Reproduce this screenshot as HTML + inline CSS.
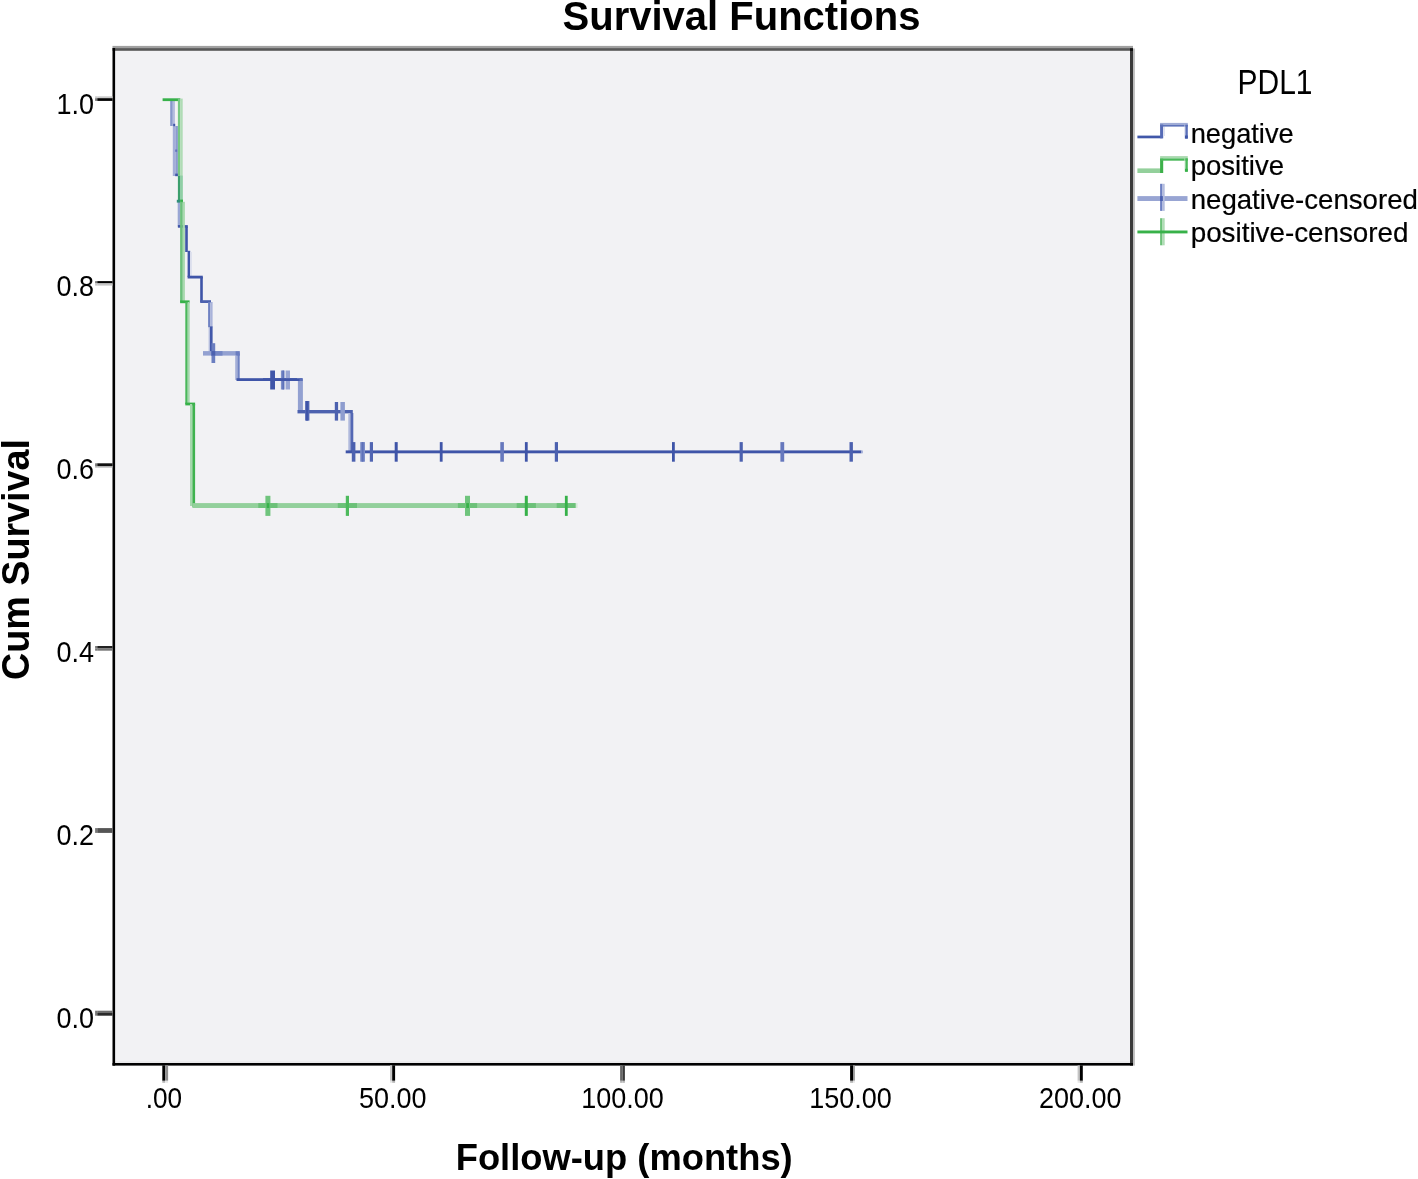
<!DOCTYPE html>
<html><head><meta charset="utf-8"><title>Survival Functions</title>
<style>
html,body{margin:0;padding:0;background:#fff;}
body{width:1418px;height:1179px;overflow:hidden;}
svg{display:block;}
text{font-family:"Liberation Sans",Arial,sans-serif;fill:#000;}
.b{font-weight:bold;}
.tk{font-size:30px;fill:#111;}
.lg{font-size:27.8px;fill:#000;stroke:#000;stroke-width:0.2px;}
</style></head><body>
<svg width="1418" height="1179" viewBox="0 0 1418 1179">
<rect x="0" y="0" width="1418" height="1179" fill="#fff"/>
<!-- plot area -->
<rect x="113.7" y="49" width="1018" height="1015.3" fill="#f2f2f4"/><rect x="115" y="1061.2" width="1015" height="1.8" fill="#e9e9eb"/>
<!-- top / right borders -->
<rect x="112.5" y="45.9" width="1020.5" height="2.3" fill="#a0a0a0"/>
<rect x="112.5" y="48.1" width="1020.5" height="2.7" fill="#585858"/>
<rect x="1133" y="48.5" width="1.9" height="1017.1" fill="#bdbdbd"/>
<rect x="1130" y="48.1" width="3" height="1017.5" fill="#3a3a3a"/><rect x="1130" y="48.4" width="3" height="2.6" fill="#111"/>
<!-- left / bottom -->
<rect x="112.5" y="48" width="2.6" height="1017.6" fill="#000"/>
<rect x="112.5" y="1063" width="1020.5" height="2.6" fill="#000"/>
<!-- y ticks -->
<g id="ticks">
<rect x="97.2" y="96.3" width="15.3" height="1.9" fill="#cacaca"/>
<rect x="95.1" y="96.3" width="2.1" height="1.9" fill="#cacaca"/>
<rect x="97.2" y="98.2" width="15.3" height="2.7" fill="#000"/>
<rect x="95.1" y="98.2" width="2.1" height="2.7" fill="#777"/>
<rect x="97.2" y="281.1" width="15.3" height="2.3" fill="#000"/>
<rect x="95.1" y="281.1" width="2.1" height="2.3" fill="#777"/>
<rect x="97.2" y="283.4" width="15.3" height="2.2" fill="#c6c6c6"/>
<rect x="95.1" y="283.4" width="2.1" height="2.2" fill="#c6c6c6"/>
<rect x="97.2" y="463.3" width="15.3" height="2.7" fill="#111"/>
<rect x="95.1" y="463.3" width="2.1" height="2.7" fill="#777"/>
<rect x="97.2" y="466.0" width="15.3" height="1.6" fill="#b0b0b0"/>
<rect x="95.1" y="466.0" width="2.1" height="1.6" fill="#b0b0b0"/>
<rect x="97.2" y="646.0" width="15.3" height="2.5" fill="#222"/>
<rect x="95.1" y="646.0" width="2.1" height="2.5" fill="#777"/>
<rect x="97.2" y="648.5" width="15.3" height="2.2" fill="#777"/>
<rect x="95.1" y="648.5" width="2.1" height="2.2" fill="#777"/>
<rect x="97.2" y="828.1" width="15.3" height="4.8" fill="#555"/>
<rect x="95.1" y="828.1" width="2.1" height="4.8" fill="#777"/>
<rect x="97.2" y="1010.7" width="15.3" height="2.3" fill="#6d6d6d"/>
<rect x="95.1" y="1010.7" width="2.1" height="2.3" fill="#777"/>
<rect x="97.2" y="1013.0" width="15.3" height="2.7" fill="#2a2a2a"/>
<rect x="95.1" y="1013.0" width="2.1" height="2.7" fill="#777"/>
<rect x="162.3" y="1065.4" width="2.8" height="15.4" fill="#000"/>
<rect x="162.3" y="1080.8" width="2.8" height="2.0" fill="#b5b5b5"/>
<rect x="165.1" y="1065.4" width="3.0" height="15.4" fill="#8e8e8e"/>
<rect x="165.1" y="1080.8" width="3.0" height="2.0" fill="#e6e6e6"/>
<rect x="390.0" y="1065.4" width="2.2" height="15.4" fill="#c6c6c6"/>
<rect x="390.0" y="1080.8" width="2.2" height="2.0" fill="#e6e6e6"/>
<rect x="392.2" y="1065.4" width="2.9" height="15.4" fill="#000"/>
<rect x="392.2" y="1080.8" width="2.9" height="2.0" fill="#b5b5b5"/>
<rect x="620.1" y="1065.4" width="2.4" height="15.4" fill="#666"/>
<rect x="620.1" y="1080.8" width="2.4" height="2.0" fill="#b5b5b5"/>
<rect x="622.5" y="1065.4" width="2.4" height="15.4" fill="#3a3a3a"/>
<rect x="622.5" y="1080.8" width="2.4" height="2.0" fill="#b5b5b5"/>
<rect x="850.1" y="1065.4" width="2.9" height="15.4" fill="#000"/>
<rect x="850.1" y="1080.8" width="2.9" height="2.0" fill="#b5b5b5"/>
<rect x="853.0" y="1065.4" width="1.9" height="15.4" fill="#999"/>
<rect x="853.0" y="1080.8" width="1.9" height="2.0" fill="#e6e6e6"/>
<rect x="1077.6" y="1065.4" width="2.3" height="15.4" fill="#c4c4c4"/>
<rect x="1077.6" y="1080.8" width="2.3" height="2.0" fill="#e6e6e6"/>
<rect x="1079.9" y="1065.4" width="2.9" height="15.4" fill="#000"/>
<rect x="1079.9" y="1080.8" width="2.9" height="2.0" fill="#b5b5b5"/>
</g>
<!-- y labels -->
<g class="tk" text-anchor="end">
<text x="94" y="113.8" textLength="37.53" lengthAdjust="spacingAndGlyphs">1.0</text>
<text x="94" y="296.4" textLength="37.53" lengthAdjust="spacingAndGlyphs">0.8</text>
<text x="94" y="479.2" textLength="37.53" lengthAdjust="spacingAndGlyphs">0.6</text>
<text x="94" y="662.0" textLength="37.53" lengthAdjust="spacingAndGlyphs">0.4</text>
<text x="94" y="844.8" textLength="37.53" lengthAdjust="spacingAndGlyphs">0.2</text>
<text x="94" y="1027.6" textLength="37.53" lengthAdjust="spacingAndGlyphs">0.0</text>
</g>
<g class="tk" text-anchor="middle">
<text x="163.9" y="1108.3" textLength="36.4" lengthAdjust="spacingAndGlyphs">.00</text>
<text x="392.7" y="1108.3" textLength="67.55" lengthAdjust="spacingAndGlyphs">50.00</text>
<text x="622.5" y="1108.3" textLength="82.57" lengthAdjust="spacingAndGlyphs">100.00</text>
<text x="850.5" y="1108.3" textLength="82.57" lengthAdjust="spacingAndGlyphs">150.00</text>
<text x="1080.3" y="1108.3" textLength="82.57" lengthAdjust="spacingAndGlyphs">200.00</text>
</g>
<!-- titles -->
<text class="b" x="741.5" y="30" font-size="40" text-anchor="middle">Survival Functions</text>
<text class="b" x="624.2" y="1170" font-size="37.5" text-anchor="middle" textLength="337" lengthAdjust="spacingAndGlyphs">Follow-up (months)</text>
<text class="b" transform="translate(29.2,559.5) rotate(-90)" font-size="39" text-anchor="middle" textLength="241" lengthAdjust="spacingAndGlyphs">Cum Survival</text>
<!-- legend -->
<text x="1275" y="93.5" font-size="35.5" text-anchor="middle" fill="#111" textLength="75" lengthAdjust="spacingAndGlyphs">PDL1</text>
<g class="lg">
<text x="1190.7" y="142.6" textLength="103" lengthAdjust="spacingAndGlyphs">negative</text>
<text x="1190.7" y="175.4" textLength="93.3" lengthAdjust="spacingAndGlyphs">positive</text>
<text x="1190.7" y="209.2" textLength="227.2" lengthAdjust="spacingAndGlyphs">negative-censored</text>
<text x="1190.7" y="242" textLength="217.8" lengthAdjust="spacingAndGlyphs">positive-censored</text>
</g>
<g id="legicons">
<rect x="1137.4" y="135.6" width="25.2" height="2.7" fill="#4057a9"/>
<rect x="1160.1" y="123.5" width="3.1" height="14.8" fill="#566bb6"/>
<rect x="1163.2" y="126.6" width="1.8" height="9.4" fill="#dfe3f0"/>
<rect x="1160.1" y="122.9" width="27.7" height="1.8" fill="#a0acd6"/>
<rect x="1160.1" y="124.7" width="27.7" height="1.9" fill="#5e73ba"/>
<rect x="1184.5" y="124.7" width="0.9" height="13.8" fill="#c9cfe7"/>
<rect x="1185.4" y="124.7" width="2.4" height="13.8" fill="#5a6fb8"/>
<rect x="1185.0" y="135.5" width="2.8" height="3.1" fill="#4057a9"/>
<rect x="1137.4" y="168.4" width="25.2" height="4.6" fill="#93d09b"/>
<rect x="1160.1" y="158.6" width="3.1" height="14.4" fill="#3cb04a"/>
<rect x="1160.1" y="156.1" width="27.7" height="2.3" fill="#a9d9af"/>
<rect x="1160.1" y="158.4" width="27.7" height="2.3" fill="#4ab85a"/>
<rect x="1184.5" y="158.4" width="0.9" height="13.1" fill="#cfe9d2"/>
<rect x="1185.4" y="158.4" width="2.4" height="13.1" fill="#4ab85a"/>
<rect x="1185.0" y="168.8" width="2.8" height="3.0" fill="#37b149"/>
<rect x="1137.4" y="196.1" width="50.1" height="4.9" fill="#98a5d3"/>
<rect x="1160.1" y="183.8" width="2.4" height="27.1" fill="#6d80c3"/>
<rect x="1162.5" y="183.8" width="2.2" height="27.1" fill="#b3bcde"/>
<rect x="1160.1" y="196.1" width="2.7" height="4.9" fill="#4a5fb0"/>
<rect x="1160.1" y="218.2" width="2.4" height="27.1" fill="#6cc178"/>
<rect x="1162.5" y="218.2" width="2.2" height="27.1" fill="#b0dcb5"/>
<rect x="1137.4" y="230.5" width="50.1" height="2.9" fill="#37b149"/>
</g>
<!-- curves -->
<g id="curves">
<rect x="170.2" y="101.0" width="2.6" height="25.0" fill="#8798cc"/>
<rect x="172.8" y="101.0" width="2.1" height="25.0" fill="#b3bcde"/>
<rect x="172.8" y="126.0" width="2.6" height="50.0" fill="#a3aed8"/>
<rect x="175.4" y="126.0" width="2.5" height="50.0" fill="#8c9bcf"/>
<rect x="173.2" y="123.8" width="2.0" height="2.4" fill="#3f55a8"/>
<rect x="175.2" y="149.5" width="2.0" height="2.3" fill="#6073bb"/>
<rect x="175.2" y="173.6" width="2.7" height="2.6" fill="#3f55a8"/>
<rect x="177.7" y="201.8" width="2.4" height="24.8" fill="#9aa7d4"/>
<rect x="177.9" y="225.1" width="9.9" height="2.6" fill="#3f55a8"/>
<rect x="185.2" y="226.6" width="2.6" height="25.4" fill="#3f55a8"/>
<rect x="187.6" y="250.8" width="2.6" height="26.2" fill="#3f55a8"/>
<rect x="190.2" y="252.0" width="1.8" height="25.0" fill="#dfe2ee"/>
<rect x="187.6" y="275.7" width="15.2" height="2.8" fill="#3f55a8"/>
<rect x="200.2" y="277.0" width="2.6" height="25.0" fill="#3f55a8"/>
<rect x="200.2" y="300.2" width="10.8" height="2.8" fill="#4d62af"/>
<rect x="208.1" y="302.0" width="2.3" height="25.4" fill="#6f82c2"/>
<rect x="210.4" y="302.0" width="2.2" height="25.4" fill="#a9b3da"/>
<rect x="208.4" y="327.4" width="1.4" height="25.6" fill="#c9cfe6"/>
<rect x="209.8" y="326.4" width="2.8" height="26.6" fill="#4258aa"/>
<rect x="203.0" y="351.1" width="36.7" height="4.5" fill="#93a1d1"/>
<rect x="211.0" y="351.1" width="11.5" height="4.5" fill="#7587c5"/>
<rect x="211.5" y="343.2" width="3.7" height="19.8" fill="#6b7ec0"/>
<rect x="211.5" y="351.1" width="3.7" height="4.5" fill="#4c61af"/>
<rect x="235.2" y="355.6" width="2.2" height="24.4" fill="#a3aed8"/>
<rect x="237.4" y="353.4" width="2.3" height="26.6" fill="#6f82c2"/>
<rect x="235.6" y="351.3" width="4.1" height="4.3" fill="#6a7dc0"/>
<rect x="236.5" y="378.2" width="65.5" height="2.8" fill="#3f55a8"/>
<rect x="270.2" y="370.5" width="4.8" height="19.0" fill="#3f55a8"/>
<rect x="280.9" y="370.5" width="3.7" height="19.0" fill="#7f90c9"/>
<rect x="282.4" y="370.5" width="1.5" height="19.0" fill="#5a6fb8"/>
<rect x="285.6" y="370.5" width="4.4" height="19.0" fill="#98a5d3"/>
<rect x="263.0" y="378.2" width="34.0" height="2.8" fill="#3f55a8"/>
<rect x="297.9" y="381.0" width="5.0" height="30.0" fill="#93a1d1"/>
<rect x="299.5" y="378.2" width="3.4" height="2.8" fill="#5a6fb8"/>
<rect x="297.5" y="410.0" width="55.3" height="3.4" fill="#4d62af"/>
<rect x="305.1" y="401.0" width="4.3" height="19.6" fill="#566ab5"/>
<rect x="306.0" y="401.0" width="2.2" height="19.6" fill="#3f55a8"/>
<rect x="334.8" y="402.0" width="3.3" height="18.6" fill="#4c61af"/>
<rect x="340.4" y="402.0" width="4.5" height="18.6" fill="#8e9dcf"/>
<rect x="348.3" y="413.0" width="2.1" height="39.0" fill="#b0b9dc"/>
<rect x="350.4" y="413.0" width="2.9" height="39.0" fill="#5468b4"/>
<rect x="345.7" y="450.4" width="515.8" height="2.9" fill="#3f55a8"/>
<rect x="861.5" y="450.5" width="1.5" height="2.8" fill="#aab4da"/>
<rect x="351.8" y="442.1" width="3.6" height="19.6" fill="#4c61af"/>
<rect x="360.2" y="442.1" width="4.8" height="19.6" fill="#7d8ec8"/>
<rect x="361.6" y="442.1" width="2.0" height="19.6" fill="#5d71b9"/>
<rect x="369.8" y="442.1" width="3.2" height="19.6" fill="#5165b2"/>
<rect x="394.7" y="442.1" width="3.0" height="19.6" fill="#3f55a8"/>
<rect x="439.8" y="442.1" width="2.8" height="19.6" fill="#3f55a8"/>
<rect x="500.3" y="442.1" width="3.6" height="19.6" fill="#6678bd"/>
<rect x="524.9" y="442.1" width="2.8" height="19.6" fill="#3f55a8"/>
<rect x="554.8" y="442.1" width="3.2" height="19.6" fill="#4c61af"/>
<rect x="672.0" y="442.1" width="2.8" height="19.6" fill="#3f55a8"/>
<rect x="739.6" y="442.1" width="3.2" height="19.6" fill="#4c61af"/>
<rect x="780.4" y="442.1" width="3.8" height="19.6" fill="#6678bd"/>
<rect x="849.5" y="442.1" width="3.4" height="19.6" fill="#4c61af"/>
<rect x="162.6" y="98.3" width="17.6" height="2.8" fill="#37b149"/>
<rect x="177.9" y="98.3" width="2.4" height="77.3" fill="#76c783"/>
<rect x="180.3" y="98.6" width="2.4" height="103.2" fill="#b0dcb5"/>
<rect x="177.9" y="175.6" width="2.4" height="26.2" fill="#3c9f6c"/>
<rect x="180.3" y="175.6" width="2.4" height="26.2" fill="#8fcfa5"/>
<rect x="176.8" y="199.8" width="3.4" height="2.8" fill="#2f8f78"/>
<rect x="180.2" y="199.6" width="2.8" height="3.0" fill="#37b149"/>
<rect x="180.1" y="201.8" width="2.7" height="100.2" fill="#6cc07c"/>
<rect x="182.8" y="201.8" width="2.1" height="100.2" fill="#a9d9af"/>
<rect x="180.1" y="300.4" width="9.5" height="2.8" fill="#37b149"/>
<rect x="185.3" y="302.0" width="2.4" height="102.0" fill="#4ab85a"/>
<rect x="187.7" y="302.0" width="2.0" height="102.0" fill="#a6d8ad"/>
<rect x="185.3" y="402.6" width="9.8" height="2.8" fill="#37b149"/>
<rect x="190.0" y="404.0" width="2.4" height="102.0" fill="#a6d8ad"/>
<rect x="192.4" y="404.0" width="2.7" height="103.0" fill="#3fb34f"/>
<rect x="192.4" y="503.1" width="383.2" height="4.9" fill="#93d09b"/>
<rect x="575.6" y="503.1" width="2.0" height="4.9" fill="#d4ead7"/>
<rect x="258.3" y="503.1" width="19.2" height="4.9" fill="#6cc178"/>
<rect x="265.4" y="495.8" width="5.0" height="20.1" fill="#6fc47c"/>
<rect x="266.6" y="503.1" width="2.8" height="4.9" fill="#37b149"/>
<rect x="337.8" y="503.1" width="19.2" height="4.9" fill="#6cc178"/>
<rect x="345.8" y="495.8" width="3.2" height="20.1" fill="#4dba5c"/>
<rect x="457.9" y="503.1" width="19.2" height="4.9" fill="#6cc178"/>
<rect x="465.0" y="495.8" width="5.0" height="20.1" fill="#6fc47c"/>
<rect x="466.2" y="503.1" width="2.8" height="4.9" fill="#37b149"/>
<rect x="516.7" y="503.1" width="19.2" height="4.9" fill="#6cc178"/>
<rect x="524.8" y="495.8" width="3.0" height="20.1" fill="#37b149"/>
<rect x="556.7" y="503.1" width="18.9" height="4.9" fill="#6cc178"/>
<rect x="564.9" y="495.8" width="2.8" height="20.1" fill="#37b149"/>
</g>
</svg>
</body></html>
